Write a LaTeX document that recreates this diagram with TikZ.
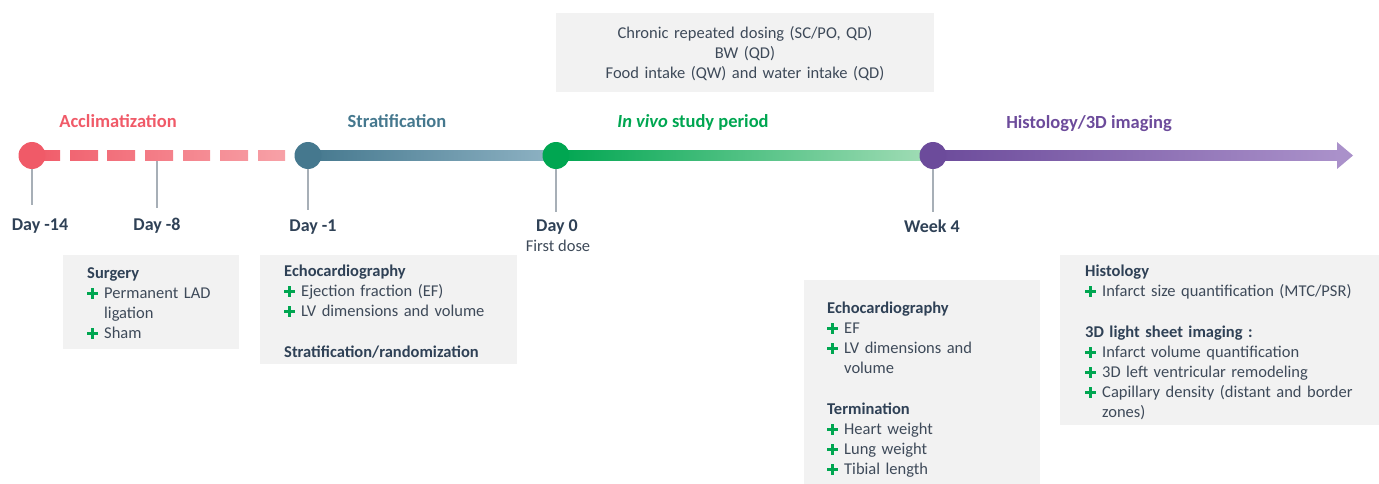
\documentclass[tikz,border=0pt]{standalone}
\usepackage{fontspec}
\setmainfont{Carlito}
\usepackage{xcolor}
\usetikzlibrary{positioning}

\definecolor{accred}{HTML}{F05A68}
\definecolor{acclight}{HTML}{F7A1A7}
\definecolor{stratteal}{HTML}{45788E}
\definecolor{stratlight}{HTML}{8FB3C4}
\definecolor{vivogreen}{HTML}{00A651}
\definecolor{vivolight}{HTML}{A3DDB7}
\definecolor{histpurple}{HTML}{6C4B9B}
\definecolor{histlight}{HTML}{AA91CA}
\definecolor{boxgray}{HTML}{F2F2F2}
\definecolor{tickgray}{HTML}{A7AFB7}
\definecolor{txtdark}{HTML}{3E4A59}
\definecolor{headdark}{HTML}{2F4156}
\definecolor{plusgreen}{HTML}{00A651}

\newcommand{\plusmark}{\makebox[17pt][l]{\textcolor{plusgreen}{%
    \rlap{\rule[3.3pt]{11pt}{3pt}}\hspace*{4pt}\rule[-0.7pt]{3pt}{11pt}}}}
\newcommand{\plusgap}{\hspace*{17pt}}
\newcommand{\boxhead}[1]{{\bfseries\textcolor{headdark}{#1}}}

\begin{document}
\begin{tikzpicture}[x=1pt, y=-1pt,
    databox/.style={fill=boxgray, anchor=north west, inner sep=0pt},
    boxtext/.style={anchor=base west, align=left, inner sep=0pt, text=txtdark,
        font=\fontsize{16.5}{20}\selectfont},
    milestone/.style={circle, minimum size=27pt, inner sep=0pt},
    daylabel/.style={anchor=base, inner sep=0pt, text=headdark,
        font=\fontsize{18}{22}\selectfont\bfseries},
    phase/.style={anchor=base, inner sep=0pt, font=\fontsize{18.5}{22}\selectfont\bfseries},
    tickline/.style={draw=tickgray, line width=1.2pt}]
    \useasboundingbox (0,0) rectangle (1379,484);

    % Boite du haut
    \node[databox, minimum width=378pt, minimum height=79pt] (dosebox) at (556,13) {};
    \node[boxtext, anchor=base, align=center, text width=370pt] (dosetxt) at (745,39)
        {Chronic repeated dosing (SC/PO, QD)\\ BW (QD)\\ Food intake (QW) and water intake (QD)};

    % Titres des phases
    \node[phase, text=accred] (acclim) at (118,128) {Acclimatization};
    \node[phase, text=stratteal] (strat) at (397,128) {Stratification};
    \node[phase, text=vivogreen] (vivo) at (693,128) {\textit{In vivo} study period};
    \node[phase, text=histpurple] (histo) at (1089,129) {Histology/3D imaging};

    % Jalons
    \coordinate (d8) at (157,155.5);
    \coordinate (t14) at (32,205);
    \coordinate (t8) at (157,208);
    \coordinate (t1) at (308,210);
    \coordinate (t0) at (556,212);
    \coordinate (tw4) at (933,212);
    \draw[tickline] (32,155.5) -- (t14);
    \draw[tickline] (d8) -- (t8);
    \draw[tickline] (308,155.5) -- (t1);
    \draw[tickline] (556,155.5) -- (t0);
    \draw[tickline] (933,155.5) -- (tw4);

    % Ligne pointillee (acclimatation)
    \foreach \xa/\xb in {32/60,70/98,107/135,145/173,183/210,220/248,258/285} {
        \pgfmathtruncatemacro\pa{100-(\xa-32)/253*100}
        \pgfmathtruncatemacro\pb{100-(\xb-32)/253*100}
        \shade[left color=accred!\pa!acclight, right color=accred!\pb!acclight]
            (\xa,150.5) rectangle (\xb,160.5);
    }
    % Segments pleins
    \shade[left color=stratteal, right color=stratlight] (308,150.5) rectangle (556,160.5);
    \shade[left color=vivogreen, right color=vivolight] (556,150.5) rectangle (933,160.5);
    \shade[left color=histpurple, right color=histlight] (933,150.5) rectangle (1338,160.5);
    \fill[histlight] (1337,142) -- (1353,155.5) -- (1337,169) -- cycle;

    \node[milestone, fill=accred] (d14) at (32,155.5) {};
    \node[milestone, fill=stratteal] (d1) at (308,155.5) {};
    \node[milestone, fill=vivogreen] (d0) at (556,155.5) {};
    \node[milestone, fill=histpurple] (w4) at (933,155.5) {};

    % Etiquettes des jours
    \node[daylabel] (lab14) at (40,230) {Day -14};
    \node[daylabel] (lab8) at (157,230) {Day -8};
    \node[daylabel] (lab1) at (313,231) {Day -1};
    \node[daylabel] (lab0) at (557,231.5) {Day 0};
    \node[boxtext, anchor=base] (dose1) at (558,251.5) {First dose};
    \node[daylabel] (labw4) at (932,232.5) {Week 4};

    % Boites de details
    \node[databox, minimum width=176pt, minimum height=94pt] (surgbox) at (63,255) {};
    \node[boxtext, text width=150pt] (surgtxt) at (87,278)
        {\boxhead{Surgery}\\ \plusmark Permanent LAD\\ \plusgap ligation\\ \plusmark Sham};

    \node[databox, minimum width=257pt, minimum height=109pt] (echobox) at (260,255) {};
    \node[boxtext, text width=230pt] (echotxt) at (284,276)
        {\boxhead{Echocardiography}\\ \plusmark Ejection fraction (EF)\\
         \plusmark LV dimensions and volume\\[21pt] \boxhead{Stratification/randomization}};

    \node[databox, minimum width=236pt, minimum height=204pt] (termbox) at (804,280) {};
    \node[boxtext, text width=210pt] (termtxt) at (827,313)
        {\boxhead{Echocardiography}\\ \plusmark EF\\ \plusmark LV dimensions and\\ \plusgap volume\\[21pt]
         \boxhead{Termination}\\ \plusmark Heart weight\\ \plusmark Lung weight\\ \plusmark Tibial length};

    \node[databox, minimum width=319pt, minimum height=170pt] (histbox) at (1060,255) {};
    \node[boxtext, text width=290pt] (histtxt) at (1085,276)
        {\boxhead{Histology}\\ \plusmark Infarct size quantification (MTC/PSR)\\[21pt]
         \boxhead{3D light sheet imaging :}\\ \plusmark Infarct volume quantification\\
         \plusmark 3D left ventricular remodeling\\ \plusmark Capillary density (distant and border\\
         \plusgap zones)};
\end{tikzpicture}
\end{document}
